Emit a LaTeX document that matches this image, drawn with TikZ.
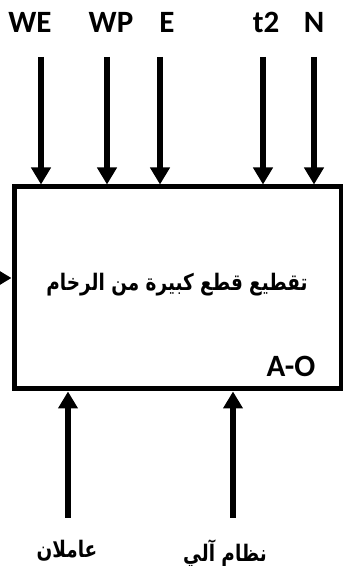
\documentclass[tikz,border=0pt]{standalone}
\usepackage{fontspec}
\setmainfont{Carlito}
\newfontfamily\arabicfont[Script=Arabic]{DejaVu Sans}
\TeXXeTstate=1
\usetikzlibrary{arrows.meta}
\newcommand{\artall}[1]{\scalebox{0.97}[1.2]{#1}}
\begin{document}
\begin{tikzpicture}[x=1pt,y=1pt,
  flow/.style={line width=6pt,-{Triangle[width=19pt,length=17pt]}},
  lbl/.style={font=\fontsize{31}{36}\selectfont\bfseries, inner sep=0pt},
  arlbl/.style={font=\arabicfont\fontsize{19}{24}\selectfont\bfseries, inner sep=0pt},
  box/.style={draw, line width=5pt, minimum width=327pt, minimum height=202pt, inner sep=0pt}]
\useasboundingbox (0,0) rectangle (343,566);
\node[box] (act) at (177.5,278) {};
\node[arlbl] (title) at (177,281) {\artall{\beginR تقطيع قطع كبيرة من الرخام\endR}};
\node[lbl] (ao) at (291,199.5) {A-O};
% top labels
\node[lbl] (we) at (30,544) {WE};
\node[lbl] (wp) at (111,544) {WP};
\node[lbl] (e) at (167,544) {E};
\node[lbl] (t2) at (266,544) {t2};
\node[lbl] (n) at (314,544) {N};
% top arrows
\coordinate (we0) at (41,509);
\coordinate (wp0) at (107,509);
\coordinate (e0) at (160,509);
\coordinate (t20) at (263,509);
\coordinate (n0) at (314,509);
\foreach \c in {we0,wp0,e0,t20,n0}
  \draw[flow] (\c) -- (\c |- act.north);
% left arrow
\coordinate (lin) at (-40,288);
\draw[flow] (lin) -- (lin -| act.west);
% bottom arrows
\coordinate (m1) at (68,48);
\coordinate (m2) at (233,48);
\draw[flow] (m1) -- (m1 |- act.south);
\draw[flow] (m2) -- (m2 |- act.south);
\node[arlbl] (workers) at (67,15) {\artall{\beginR عاملان\endR}};
\node[arlbl] (auto) at (225,13) {\artall{\beginR نظام آلي\endR}};
\end{tikzpicture}
\end{document}
